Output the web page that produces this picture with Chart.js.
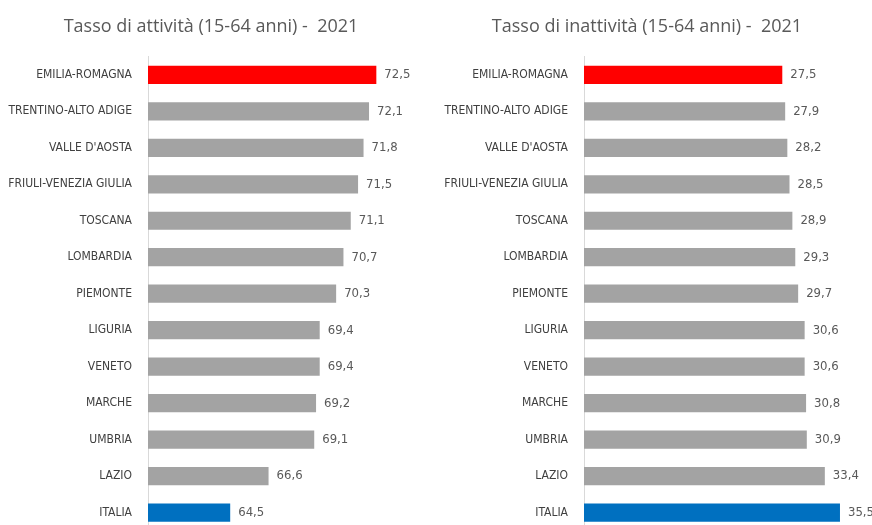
<!DOCTYPE html>
<html>
<head>
<meta charset="utf-8">
<script src="https://cdn.jsdelivr.net/npm/chart.js@4"></script>
<style>
    html, body { margin: 0; padding: 0; background: #fff; overflow: hidden; }
    #page { position: relative; width: 872px; height: 525px; overflow: hidden; }
    canvas { position: absolute; top: 0; }
    #activityChart { left: 0; }
    #inactivityChart { left: 436px; }
</style>
</head>
<body>
<div id="page">
    <canvas id="activityChart" width="436" height="546"></canvas>
    <canvas id="inactivityChart" width="436" height="546"></canvas>
</div>
<script>
const regions = ['EMILIA-ROMAGNA', 'TRENTINO-ALTO ADIGE', "VALLE D'AOSTA", 'FRIULI-VENEZIA GIULIA',
    'TOSCANA', 'LOMBARDIA', 'PIEMONTE', 'LIGURIA', 'VENETO', 'MARCHE', 'UMBRIA', 'LAZIO', 'ITALIA'];
const activityRate = [72.5, 72.1, 71.8, 71.5, 71.1, 70.7, 70.3, 69.4, 69.4, 69.2, 69.1, 66.6, 64.5];
const inactivityRate = [27.5, 27.9, 28.2, 28.5, 28.9, 29.3, 29.7, 30.6, 30.6, 30.8, 30.9, 33.4, 35.5];

// red for Emilia-Romagna, blue for Italia, grey for the rest
const barColors = regions.map(r => r === 'EMILIA-ROMAGNA' ? '#ff0000' : (r === 'ITALIA' ? '#0070c0' : '#a3a3a3'));

const labelFont = "'Liberation Sans Narrow', 'Arial Narrow', 'DejaVu Sans Condensed', sans-serif";
const textFont = "'Open Sans', 'Noto Sans', sans-serif";

// write the value at the end of each bar, Italian decimal comma
const valueLabels = {
    id: 'valueLabels',
    afterDatasetsDraw(chart) {
        const ctx = chart.ctx;
        const meta = chart.getDatasetMeta(0);
        ctx.save();
        ctx.font = '13px ' + labelFont;
        ctx.fillStyle = '#595959';
        ctx.textAlign = 'left';
        ctx.textBaseline = 'middle';
        meta.data.forEach((bar, i) => {
            const v = chart.data.datasets[0].data[i];
            ctx.fillText(v.toFixed(1).replace('.', ','), bar.x + 8, bar.y);
        });
        ctx.restore();
    }
};

function makeChart(canvasId, title, values, min, max) {
    const ctx = document.getElementById(canvasId).getContext('2d');
    return new Chart(ctx, {
        type: 'bar',
        data: {
            labels: regions,
            datasets: [{
                data: values,
                backgroundColor: barColors,
                categoryPercentage: 1,
                barPercentage: 0.5
            }]
        },
        options: {
            indexAxis: 'y',
            responsive: false,
            animation: false,
            layout: { autoPadding: false, padding: { left: 0, right: 14, top: 0, bottom: 1 } },
            scales: {
                x: {
                    display: false,
                    min: min,
                    max: max
                },
                y: {
                    grid: { display: false },
                    border: { display: true, color: '#d9d9d9', width: 1 },
                    ticks: {
                        color: '#404040',
                        padding: 8,
                        font: { family: labelFont, size: 12 }
                    },
                    afterFit: scale => { scale.width = 148; }
                }
            },
            plugins: {
                legend: { display: false },
                tooltip: { enabled: false },
                title: {
                    display: true,
                    text: title,
                    color: '#595959',
                    font: { family: textFont, size: 18, weight: 'normal' },
                    padding: { top: 16, bottom: 19 }
                }
            }
        },
        plugins: [valueLabels]
    });
}

makeChart('activityChart', 'Tasso di attività (15-64 anni) -  2021', activityRate, 60, 75);
makeChart('inactivityChart', 'Tasso di inattività (15-64 anni) -  2021', inactivityRate, 0, 38);
</script>
</body>
</html>
